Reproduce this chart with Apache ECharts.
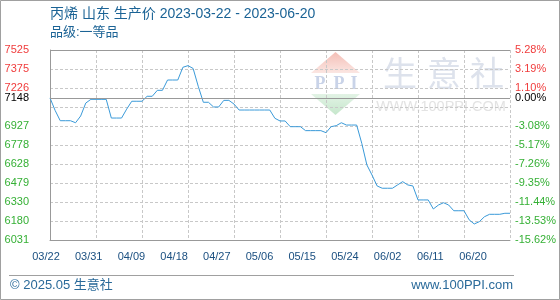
<!DOCTYPE html>
<html>
<head>
<meta charset="utf-8">
<script src="https://cdn.jsdelivr.net/npm/echarts@6/dist/echarts.min.js"></script>
<style>
html,body{margin:0;padding:0;background:#fff;}
#c{width:560px;height:300px;}
</style>
</head>
<body>
<div id="c"></div>
<script>
// ---- data ----
var titleText = '丙烯 山东 生产价 2023-03-22 - 2023-06-20';
var subTitleText = '品级:一等品';
var baseValue = 7148;
var dates = [
  '03/22','03/23','03/24','03/25','03/26','03/27','03/28','03/29','03/30','03/31',
  '04/01','04/02','04/03','04/04','04/05','04/06','04/07','04/08','04/09','04/10',
  '04/11','04/12','04/13','04/14','04/15','04/16','04/17','04/18','04/19','04/20',
  '04/21','04/22','04/23','04/24','04/25','04/26','04/27','04/28','04/29','04/30',
  '05/01','05/02','05/03','05/04','05/05','05/06','05/07','05/08','05/09','05/10',
  '05/11','05/12','05/13','05/14','05/15','05/16','05/17','05/18','05/19','05/20',
  '05/21','05/22','05/23','05/24','05/25','05/26','05/27','05/28','05/29','05/30',
  '05/31','06/01','06/02','06/03','06/04','06/05','06/06','06/07','06/08','06/09',
  '06/10','06/11','06/12','06/13','06/14','06/15','06/16','06/17','06/18','06/19',
  '06/20'
];
var prices = [
  7148,7050,6969,6969,6969,6953,7006,7108,7137,7137,
  7137,7137,6990,6990,6990,7060,7122,7122,7122,7161,
  7161,7208,7208,7289,7289,7289,7389,7402,7380,7240,
  7114,7114,7077,7077,7129,7129,7100,7053,7053,7053,
  7053,7053,7053,7053,6988,6967,6967,6922,6922,6922,
  6891,6891,6891,6891,6875,6922,6930,6953,6935,6935,
  6935,6791,6621,6542,6456,6438,6438,6438,6464,6490,
  6464,6456,6346,6346,6346,6275,6306,6324,6306,6261,
  6261,6261,6190,6157,6175,6214,6233,6233,6233,6241,
  6241
];
var xTickLabels = ['03/22','03/31','04/09','04/18','04/27','05/06','05/15','05/24','06/02','06/11','06/20'];
var yGridValues = [6031,6180,6330,6479,6628,6778,6927,7077,7226,7375,7525];
var yLabelValues = [6031,6180,6330,6479,6628,6778,6927,7148,7226,7375,7525];
var yRightLabels = ['-15.62%','-13.53%','-11.44%','-9.35%','-7.26%','-5.17%','-3.08%','0.00%','1.10%','3.19%','5.28%'];
var yMin = 6031, yMax = 7525;

// ---- chart ----
var FONT = "'Liberation Sans', Arial, 'Noto Sans CJK SC', sans-serif";
var RED = '#f03c3c', GREEN = '#35b035', BLACK = '#000';
function labelColor(v){ v = Number(v); return v > baseValue ? RED : (v === baseValue ? BLACK : GREEN); }
var rightMap = {};
yLabelValues.forEach(function(v,i){ rightMap[v] = yRightLabels[i]; });

var chart = echarts.init(document.getElementById('c'), null, {renderer:'canvas'});
var option = {
  animation: false,
  backgroundColor: '#fff',
  title: [
    {text: titleText, left: 50, top: 7, padding: 0,
     textStyle: {fontFamily: FONT, fontSize: 14, fontWeight: 'normal', color: '#1b6395'}},
    {text: subTitleText, left: 50, top: 26, padding: 0,
     textStyle: {fontFamily: FONT, fontSize: 13, fontWeight: 'normal', color: '#1b6395'}}
  ],
  grid: [
    {left: 50, right: 50, top: 50, bottom: 60, containLabel: false},
    {left: 46, right: 87, top: 50, bottom: 60, containLabel: false}
  ],
  xAxis: [
    {type: 'category', gridIndex: 0, data: dates, boundaryGap: false,
     axisLine: {show: true, lineStyle: {color: '#999', width: 1}},
     axisTick: {show: false}, axisLabel: {show: false},
     splitLine: {show: true, interval: 8, lineStyle: {color: '#c8c8c8', type: [3,2], width: 1}}},
    {type: 'category', gridIndex: 1, data: xTickLabels, boundaryGap: false,
     axisLine: {show: false}, axisTick: {show: false}, splitLine: {show: false},
     axisLabel: {show: true, interval: 0, margin: 11, fontFamily: FONT, fontSize: 11, color: '#1a4f80'}}
  ],
  yAxis: [
    {type: 'value', gridIndex: 0, min: yMin, max: yMax, position: 'left',
     axisLine: {show: true, lineStyle: {color: '#999', width: 1}},
     axisTick: {show: false, customValues: yGridValues},
     splitLine: {show: true, lineStyle: {color: '#c8c8c8', type: [3,2], width: 1}},
     axisLabel: {show: true, customValues: yLabelValues, margin: 21, fontFamily: FONT, fontSize: 11,
       color: labelColor, formatter: function(v){ return String(Math.round(v)); }}},
    {type: 'value', gridIndex: 0, min: yMin, max: yMax, position: 'right',
     axisLine: {show: false}, axisTick: {show: false, customValues: yGridValues},
     splitLine: {show: false},
     axisLabel: {show: true, customValues: yLabelValues, margin: 5, fontFamily: FONT, fontSize: 11,
       color: labelColor, formatter: function(v){ return rightMap[Math.round(v)] || ''; }}},
    {type: 'value', gridIndex: 1, show: false}
  ],
  series: [
    {type: 'line', xAxisIndex: 0, yAxisIndex: 0, data: prices, showSymbol: false, symbol: 'none',
     lineStyle: {color: '#3a9ad9', width: 1}, itemStyle: {color: '#3a9ad9'}, z: 3,
     markLine: {silent: true, symbol: 'none', label: {show: false}, animation: false,
       lineStyle: {color: '#999', type: 'solid', width: 1},
       data: [{yAxis: baseValue}, {yAxis: yMax}]}}
  ],
  graphic: [
    // outer border
    {type: 'rect', shape: {x: 0.5, y: 0.5, width: 559, height: 299}, style: {fill: 'none', stroke: '#a0a0a0', lineWidth: 1}, z: 100},
    // footer separator
    {type: 'line', shape: {x1: 9, y1: 275.5, x2: 514, y2: 275.5}, style: {stroke: '#a0a0a0', lineWidth: 1}, z: 100},
    {type: 'text', left: 10, top: 279, style: {text: '© 2025.05 生意社', font: '13px ' + FONT, fill: '#2a6a9a'}, z: 100},
    {type: 'text', right: 47, top: 279, style: {text: 'www.100PPI.com', font: '13px ' + FONT, fill: '#2a6a9a'}, z: 100},
    // watermark logo
    {type: 'polygon', shape: {points: [[311,73],[360,73],[335.5,52]]}, z: -10, silent: true,
     style: {fill: new echarts.graphic.LinearGradient(0,0,0,1,[{offset:0,color:'#f4beb6'},{offset:1,color:'#fbe6e2'}])}},
    {type: 'polygon', shape: {points: [[311,94],[360,94],[335.5,115]]}, z: -10, silent: true,
     style: {fill: new echarts.graphic.LinearGradient(0,0,0,1,[{offset:0,color:'#e2f3e5'},{offset:1,color:'#c6e7cc'}])}},
    {type: 'text', x: 320, y: 84, z: -10, silent: true, style: {text: 'P', font: 'bold 18px "Liberation Serif", serif', fill: '#c9d3e8', align: 'center', verticalAlign: 'middle'}},
    {type: 'text', x: 339, y: 84, z: -10, silent: true, style: {text: 'P', font: 'bold 18px "Liberation Serif", serif', fill: '#c9d3e8', align: 'center', verticalAlign: 'middle'}},
    {type: 'text', x: 354, y: 84, z: -10, silent: true, style: {text: 'I', font: 'bold 18px "Liberation Serif", serif', fill: '#c9d3e8', align: 'center', verticalAlign: 'middle'}},
    {type: 'text', x: 400, y: 73, z: -10, silent: true, style: {text: '生', font: '34px "Noto Sans CJK SC", sans-serif', fill: '#dde2ec', align: 'center', verticalAlign: 'middle'}},
    {type: 'text', x: 444, y: 73, z: -10, silent: true, style: {text: '意', font: '34px "Noto Sans CJK SC", sans-serif', fill: '#dde2ec', align: 'center', verticalAlign: 'middle'}},
    {type: 'text', x: 487, y: 73, z: -10, silent: true, style: {text: '社', font: '34px "Noto Sans CJK SC", sans-serif', fill: '#dde2ec', align: 'center', verticalAlign: 'middle'}},
    {type: 'text', x: 441, y: 107, z: -10, silent: true, style: {text: 'WWW.100PPI.COM', font: '14.5px ' + FONT, fill: '#e3e3e3', align: 'center', verticalAlign: 'middle'}}
  ]
};
chart.setOption(option);
</script>
</body>
</html>
